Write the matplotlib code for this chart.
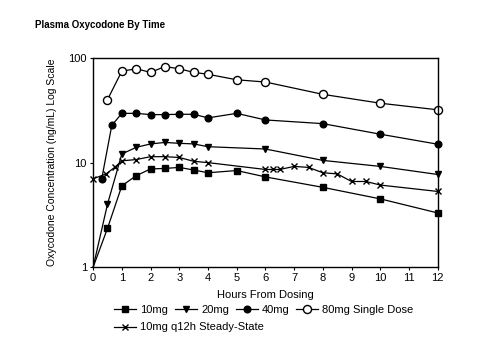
import matplotlib
matplotlib.use("Agg")
from matplotlib import pyplot as plt
from matplotlib.lines import Line2D

plt.rcParams['font.family'] = ['Liberation Sans', 'DejaVu Sans']

# hours / concentration (ng/mL)
hours_10 = [0, 0.5, 1, 1.5, 2, 2.5, 3, 3.5, 4, 5, 6, 8, 10, 12]
conc_10 = [1.0, 2.35, 6.0, 7.5, 8.7, 8.8, 9.0, 8.5, 8.0, 8.4, 7.3, 5.8, 4.5, 3.3]

hours_20 = [0, 0.5, 1, 1.5, 2, 2.5, 3, 3.5, 4, 6, 8, 10, 12]
conc_20 = [1.0, 4.0, 12.1, 14.0, 15.1, 15.6, 15.3, 15.1, 14.2, 13.5, 10.5, 9.2, 7.7]

hours_40 = [0.3, 0.65, 1, 1.5, 2, 2.5, 3, 3.5, 4, 5, 6, 8, 10, 12]
conc_40 = [7.0, 22.7, 29.6, 29.6, 28.8, 28.8, 29.0, 29.0, 26.8, 29.6, 25.6, 23.6, 18.7, 15.0]

hours_80 = [0.5, 1, 1.5, 2, 2.5, 3, 3.5, 4, 5, 6, 8, 10, 12]
conc_80 = [40, 75, 79, 73, 83, 79, 73, 70, 62, 59, 45, 37, 32]

hours_ss = [0, 0.45, 0.75, 1, 1.5, 2, 2.5, 3, 3.5, 4, 6, 6.25, 6.5, 7, 7.5, 8, 8.5, 9, 9.5, 10, 12]
conc_ss = [7.0, 7.8, 9.0, 10.4, 10.7, 11.4, 11.4, 11.2, 10.3, 10.0, 8.6, 8.6, 8.6,
           9.2, 9.0, 8.0, 7.8, 6.6, 6.6, 6.1, 5.3]

x_ticks = list(range(0, 13))
y_ticks = [1, 10, 100]

fig = plt.figure(figsize=(4.8, 3.52), dpi=100)
ax = fig.add_axes([0.194, 0.241, 0.718, 0.594])

kw = dict(color='black', lw=0.9, markersize=4.8, clip_on=False)
ax.plot(hours_10, conc_10, marker='s', markevery=list(range(1, len(hours_10))), **kw)
ax.plot(hours_20, conc_20, marker='v', markevery=list(range(1, len(hours_20))), **kw)
ax.plot(hours_40, conc_40, marker='o', **kw)
ax.plot(hours_80, conc_80, marker='o', markerfacecolor='white', markersize=5.8,
        color='black', lw=0.9, clip_on=False)
ax.plot(hours_ss, conc_ss, marker='x', **kw)

ax.set_yscale('log')
ax.set_xlim(0, 12)
ax.set_ylim(1, 100)
ax.set_xticks(x_ticks)
ax.set_xticklabels([str(t) for t in x_ticks])
ax.set_yticks(y_ticks)
ax.set_yticklabels([str(t) for t in y_ticks])
ax.minorticks_off()
ax.tick_params(axis='both', labelsize=8, length=2.5, width=0.8, pad=2)
for s in ax.spines.values():
    s.set_linewidth(1.0)

ax.set_xlabel('Hours From Dosing', fontsize=8, labelpad=5)
ax.set_ylabel('Oxycodone Concentration (ng/mL) Log Scale', fontsize=7.5, labelpad=8)

fig.text(0.073, 0.929, 'Plasma Oxycodone By Time', fontsize=7, fontweight='bold',
         va='center', family=['Liberation Sans Narrow', 'Liberation Sans', 'DejaVu Sans'])

def handle(marker, face='black', ms=4.8):
    return Line2D([], [], color='black', lw=0.9, marker=marker,
                  markerfacecolor=face, markersize=ms)

row1 = [handle('s'), handle('v'), handle('o'), handle('o', 'white', 5.8)]
lab1 = ['10mg', '20mg', '40mg', '80mg Single Dose']
fig.legend(row1, lab1, loc='upper left', bbox_to_anchor=(0.238, 0.133),
           ncol=4, frameon=False, fontsize=8, handlelength=2.0,
           handletextpad=0.35, columnspacing=0.6, borderpad=0, borderaxespad=0)
fig.legend([handle('x')], ['10mg q12h Steady-State'], loc='upper left',
           bbox_to_anchor=(0.238, 0.084), frameon=False, fontsize=8,
           handlelength=2.0, handletextpad=0.35, borderpad=0, borderaxespad=0)

fig.savefig('out.png', dpi=100)
